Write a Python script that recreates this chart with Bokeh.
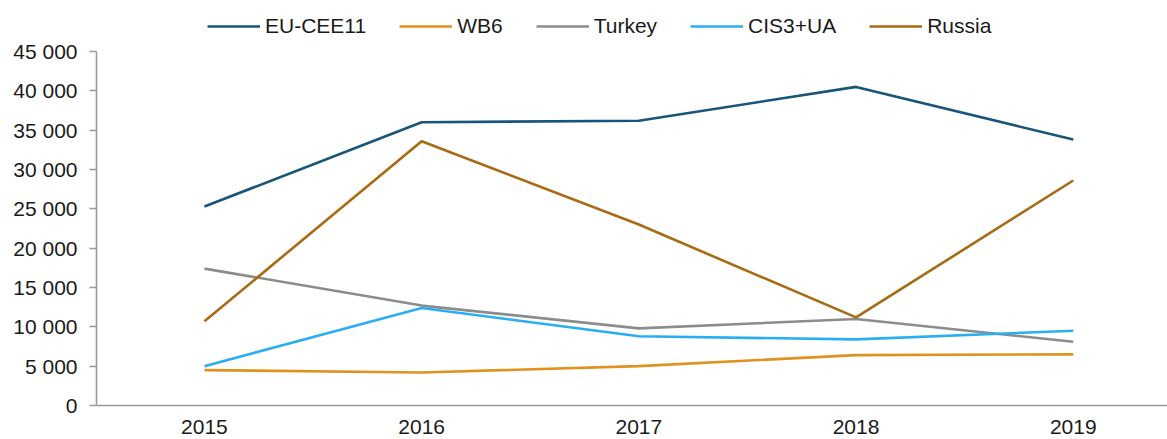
from bokeh.plotting import figure
from bokeh.models import Legend, LegendItem, FixedTicker, Range1d
from bokeh.embed import file_html
from bokeh.resources import INLINE

years = ["2015", "2016", "2017", "2018", "2019"]
eu_cee11 = [25300, 36000, 36200, 40500, 33800]
wb6 = [4500, 4200, 5000, 6400, 6500]
turkey = [17400, 12700, 9800, 11000, 8100]
cis3_ua = [5000, 12400, 8800, 8400, 9500]
russia = [10700, 33600, 23000, 11200, 28600]

series = [
    ("EU-CEE11", eu_cee11, "#17557a"),
    ("WB6", wb6, "#e0921f"),
    ("Turkey", turkey, "#8c8c8c"),
    ("CIS3+UA", cis3_ua, "#29aef2"),
    ("Russia", russia, "#a86a12"),
]

FONT = "Liberation Sans"
xs = list(range(len(years)))
Y_MAX = 45000

# frame spans full height above the axis; axis line bounded to 0..45000
p = figure(width=1167, height=439, output_backend="svg", toolbar_location=None,
           x_range=Range1d(-0.497, 4.434), y_range=Range1d(0, Y_MAX * 405 / 354),
           min_border_left=96, min_border_right=0, min_border_top=0, min_border_bottom=34)
p.outline_line_color = None
p.grid.grid_line_color = None
p.background_fill_color = "white"

items = []
for name, vals, col in series:
    r = p.line(xs, vals, line_color=col, line_width=2.6)
    items.append(LegendItem(label=name, renderers=[r]))

legend = Legend(items=items, orientation="horizontal", location=(111, 367),
                border_line_color=None, background_fill_alpha=0,
                padding=0, margin=0, spacing=33, label_standoff=5,
                glyph_width=53, glyph_height=20, label_height=20,
                label_text_font=FONT, label_text_font_size="21px",
                label_text_color="#1a1a1a")
p.add_layout(legend, "center")

p.xaxis.ticker = FixedTicker(ticks=xs)
p.xaxis.major_label_overrides = {i: y for i, y in enumerate(years)}
p.xaxis.major_tick_out = 0
p.xaxis.major_tick_in = 0
p.xaxis.minor_tick_out = 0
p.xaxis.minor_tick_in = 0
p.xaxis.major_label_standoff = 14

p.yaxis.bounds = (0, Y_MAX)
p.yaxis.ticker = FixedTicker(ticks=list(range(0, Y_MAX + 1, 5000)))
p.yaxis.major_label_overrides = {v: (f"{v:,}".replace(",", " ")) for v in range(0, Y_MAX + 1, 5000)}
p.yaxis.major_tick_out = 7
p.yaxis.major_tick_in = 0
p.yaxis.minor_tick_out = 0
p.yaxis.minor_tick_in = 0
p.yaxis.major_label_standoff = 12

for ax in (p.xaxis, p.yaxis):
    ax.axis_line_color = "#9a9a9a"
    ax.axis_line_width = 1.6
    ax.major_tick_line_color = "#9a9a9a"
    ax.major_tick_line_width = 1.6
    ax.major_label_text_font = FONT
    ax.major_label_text_font_size = "21px"
    ax.major_label_text_color = "#1a1a1a"

open("out.html", "w").write(file_html(p, INLINE))
